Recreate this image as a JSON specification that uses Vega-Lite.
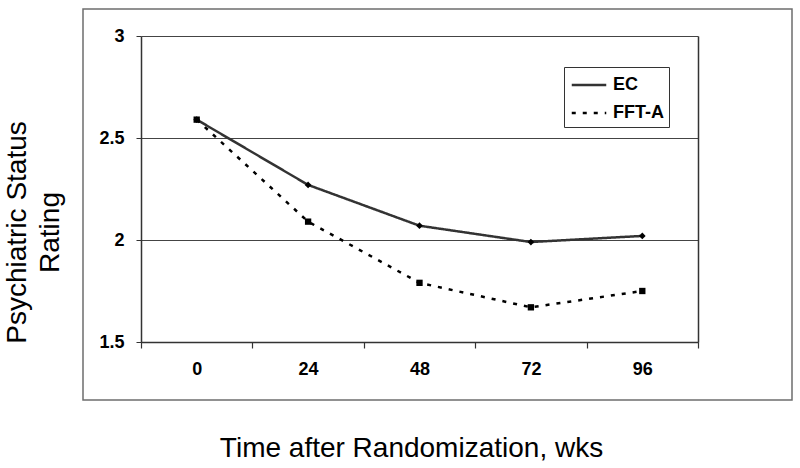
{
  "$schema": "https://vega.github.io/schema/vega-lite/v6.json",
  "width": 709,
  "height": 391,
  "autosize": {"type": "none"},
  "padding": {"left": 83, "top": 9, "right": 8, "bottom": 68},
  "background": "white",
  "config": {"view": {"stroke": "#6e6e6e", "strokeWidth": 1.5}, "font": "Liberation Sans"},
  "data": {
    "values": [
      {"week": 0, "group": "EC", "rating": 2.59},
      {"week": 24, "group": "EC", "rating": 2.27},
      {"week": 48, "group": "EC", "rating": 2.07},
      {"week": 72, "group": "EC", "rating": 1.99},
      {"week": 96, "group": "EC", "rating": 2.02},
      {"week": 0, "group": "FFT-A", "rating": 2.59},
      {"week": 24, "group": "FFT-A", "rating": 2.09},
      {"week": 48, "group": "FFT-A", "rating": 1.79},
      {"week": 72, "group": "FFT-A", "rating": 1.67},
      {"week": 96, "group": "FFT-A", "rating": 1.75}
    ]
  },
  "resolve": {"axis": {"y": "independent"}},
  "layer": [
    {
      "mark": {"type": "line", "strokeWidth": 2.5, "strokeCap": "butt"},
      "encoding": {
        "x": {
          "field": "week", "type": "ordinal",
          "scale": {"type": "band", "range": [58, 615], "paddingInner": 0, "paddingOuter": 0},
          "axis": {
            "orient": "bottom", "offset": -58, "labelAngle": 0, "tickBand": "extent",
            "tickSize": 6, "tickColor": "#333", "tickWidth": 1.2, "domainColor": "#333", "domainWidth": 1.5,
            "labelPadding": 12, "labelFont": "Liberation Sans, Arial, sans-serif", "labelFontSize": 18,
            "labelFontWeight": "bold", "labelColor": "black", "grid": false,
            "title": "Time after Randomization, wks", "titleFont": "Liberation Sans, Arial, sans-serif",
            "titleFontSize": 28, "titleFontWeight": "normal", "titleColor": "black",
            "titleX": 328, "titleY": 114, "titleBaseline": "alphabetic", "titleAlign": "center"
          }
        },
        "y": {
          "field": "rating", "type": "quantitative",
          "scale": {"domain": [1.5, 3], "range": [333, 27], "zero": false, "nice": false},
          "axis": {
            "orient": "left", "offset": -58, "values": [1.5, 2, 2.5, 3], "format": ".1~f",
            "grid": true, "gridColor": "#444", "gridWidth": 1,
            "domainColor": "#333", "domainWidth": 1.5, "tickColor": "#333", "tickSize": 5,
            "labelPadding": 12, "labelFont": "Liberation Sans, Arial, sans-serif", "labelFontSize": 18,
            "labelFontWeight": "bold", "labelColor": "black",
            "title": ["Psychiatric Status", "Rating"], "titleFont": "Liberation Sans, Arial, sans-serif",
            "titleFontSize": 28, "titleFontWeight": "normal", "titleColor": "black",
            "titleAngle": -90, "titleX": -124, "titleY": 223, "titleAlign": "center",
            "titleBaseline": "middle", "titleLineHeight": 33
          }
        },
        "color": {
          "field": "group", "type": "nominal",
          "scale": {"domain": ["EC", "FFT-A"], "range": ["#333333", "#000000"]},
          "legend": {
            "orient": "none", "legendX": 481, "legendY": 58, "title": null,
            "strokeColor": "#333", "padding": 5, "labelFont": "Liberation Sans, Arial, sans-serif",
            "labelFontSize": 18, "labelFontWeight": "bold", "labelColor": "black",
            "symbolSize": 529, "symbolStrokeWidth": 2.5, "symbolOffset": 7, "labelOffset": 11,
            "rowPadding": 6, "symbolType": "M-1.5,0H1.5"
          }
        },
        "strokeDash": {
          "field": "group", "type": "nominal",
          "scale": {"domain": ["EC", "FFT-A"], "range": [[1, 0], [4, 7]]}
        }
      }
    },
    {
      "transform": [{"filter": "datum.group === 'EC'"}],
      "mark": {"type": "point", "filled": true, "opacity": 1, "color": "black", "shape": "diamond", "size": 45},
      "encoding": {
        "x": {"field": "week", "type": "ordinal"},
        "y": {
          "field": "rating", "type": "quantitative",
          "axis": {"orient": "right", "offset": -94, "labels": false, "ticks": false, "grid": false, "title": null, "domainColor": "#333", "domainWidth": 1.5}
        }
      }
    },
    {
      "transform": [{"filter": "datum.group === 'FFT-A'"}],
      "mark": {"type": "point", "filled": true, "opacity": 1, "color": "black", "shape": "square", "size": 40},
      "encoding": {
        "x": {"field": "week", "type": "ordinal"},
        "y": {"field": "rating", "type": "quantitative", "axis": null}
      }
    }
  ]
}
